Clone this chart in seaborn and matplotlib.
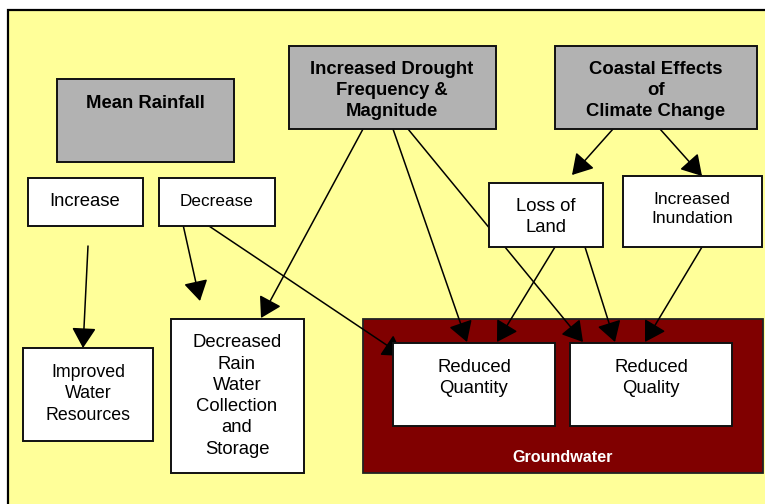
import matplotlib
matplotlib.use("Agg")
import matplotlib.pyplot as plt
import matplotlib.patches as patches
import seaborn as sns

# ------------------------------
# Diagram content
# ------------------------------

drivers = ["Mean Rainfall", "Increased Drought\nFrequency &\nMagnitude",
           "Coastal Effects\nof\nClimate Change"]
rain_effects = ["Increase", "Decrease"]
coastal_effects = ["Loss of\nLand", "Increased\nInundation"]
outcomes = ["Improved\nWater\nResources", "Decreased\nRain\nWater\nCollection\nand\nStorage"]
groundwater = ["Reduced\nQuantity", "Reduced\nQuality"]
group_label = "Groundwater"

# links (from, to)
links = [
    ("Increase", "Improved\nWater\nResources"),
    ("Decrease", "Decreased\nRain\nWater\nCollection\nand\nStorage"),
    ("Decrease", "Reduced\nQuantity"),
    ("Increased Drought\nFrequency &\nMagnitude", "Decreased\nRain\nWater\nCollection\nand\nStorage"),
    ("Increased Drought\nFrequency &\nMagnitude", "Reduced\nQuantity"),
    ("Increased Drought\nFrequency &\nMagnitude", "Reduced\nQuality"),
    ("Loss of\nLand", "Reduced\nQuantity"),
    ("Loss of\nLand", "Reduced\nQuality"),
    ("Increased\nInundation", "Reduced\nQuality"),
    ("Coastal Effects\nof\nClimate Change", "Loss of\nLand"),
    ("Coastal Effects\nof\nClimate Change", "Increased\nInundation"),
]

# ------------------------------
# Layout (pixel space, y down)
# ------------------------------

box_pos = {
    "Mean Rainfall": (57, 79, 234, 162),
    "Increased Drought\nFrequency &\nMagnitude": (289, 46, 496, 129),
    "Coastal Effects\nof\nClimate Change": (555, 46, 757, 129),
    "Increase": (28, 178, 143, 226),
    "Decrease": (159, 178, 275, 226),
    "Loss of\nLand": (489, 183, 603, 247),
    "Increased\nInundation": (623, 176, 762, 247),
    "Improved\nWater\nResources": (23, 348, 153, 441),
    "Decreased\nRain\nWater\nCollection\nand\nStorage": (171, 319, 304, 473),
    "Reduced\nQuantity": (393, 343, 555, 426),
    "Reduced\nQuality": (570, 343, 732, 426),
}
text_pos = {
    "Mean Rainfall": (145, 103),
    "Increased Drought\nFrequency &\nMagnitude": (392, 90.5),
    "Coastal Effects\nof\nClimate Change": (656, 90.5),
    "Increase": (85, 202),
    "Decrease": (217, 201),
    "Loss of\nLand": (546, 217),
    "Increased\nInundation": (692, 209),
    "Improved\nWater\nResources": (88, 394),
    "Decreased\nRain\nWater\nCollection\nand\nStorage": (237, 396),
    "Reduced\nQuantity": (474, 378),
    "Reduced\nQuality": (651, 378),
}
text_size = {"Decrease": 12.3, "Increased\nInundation": 12.6,
             "Improved\nWater\nResources": 12.8}
link_pts = [
    ((88, 246), (83, 348)),
    ((182, 220), (200, 301)),
    ((200, 220), (403, 356)),
    ((363, 129), (261, 318)),
    ((393, 129), (467, 342)),
    ((408, 129), (583, 342)),
    ((555, 247), (497, 342)),
    ((585, 247), (615, 342)),
    ((702, 247), (645, 342)),
    ((613, 129), (572, 175)),
    ((660, 129), (702, 176)),
]
group_box = (363, 319, 763, 473)

# ------------------------------
# Plot
# ------------------------------

sns.set_theme(style="white")
plt.rcParams['font.family'] = ['Liberation Sans', 'DejaVu Sans']

fig = plt.figure(figsize=(7.65, 5.04), dpi=100)
ax = fig.add_axes([0, 0, 1, 1])
ax.set_xlim(0, 765)
ax.set_ylim(504, 0)
ax.axis("off")
fig.patch.set_facecolor("white")

YELLOW = "#FFFF99"
GRAY = "#B2B2B2"
DARKRED = "#800000"

# background panel
ax.add_patch(patches.Rectangle((8, 10), 800, 520, facecolor=YELLOW,
                               edgecolor="black", lw=1.6, zorder=0))

# groundwater container
gx0, gy0, gx1, gy1 = group_box
ax.add_patch(patches.Rectangle((gx0, gy0), gx1 - gx0, gy1 - gy0,
                               facecolor=DARKRED, edgecolor="#222222", lw=1.3, zorder=1))
ax.text((gx0 + gx1) / 2, 458, group_label, color="white", fontsize=11.6,
        fontweight="bold", ha="center", va="center", zorder=5)

# links go under the boxes
for (x0, y0), (x1, y1) in link_pts:
    ax.annotate("", xy=(x1, y1), xytext=(x0, y0),
                arrowprops=dict(arrowstyle="-|>,head_length=1.25,head_width=0.75",
                                mutation_scale=10, color="black", lw=1.1,
                                shrinkA=0, shrinkB=0), zorder=2)

for name, (x0, y0, x1, y1) in box_pos.items():
    bold = name in drivers
    fc = GRAY if bold else "white"
    ax.add_patch(patches.Rectangle((x0, y0), x1 - x0, y1 - y0, facecolor=fc,
                                   edgecolor="#111111", lw=1.4, zorder=3))
    tx, ty = text_pos[name]
    ax.text(tx, ty, name, ha="center", va="center", multialignment="center",
            fontsize=text_size.get(name, 13.3),
            fontweight="bold" if bold else "normal",
            color="black", linespacing=1.33, zorder=4)

plt.savefig("out.png", dpi=100)
